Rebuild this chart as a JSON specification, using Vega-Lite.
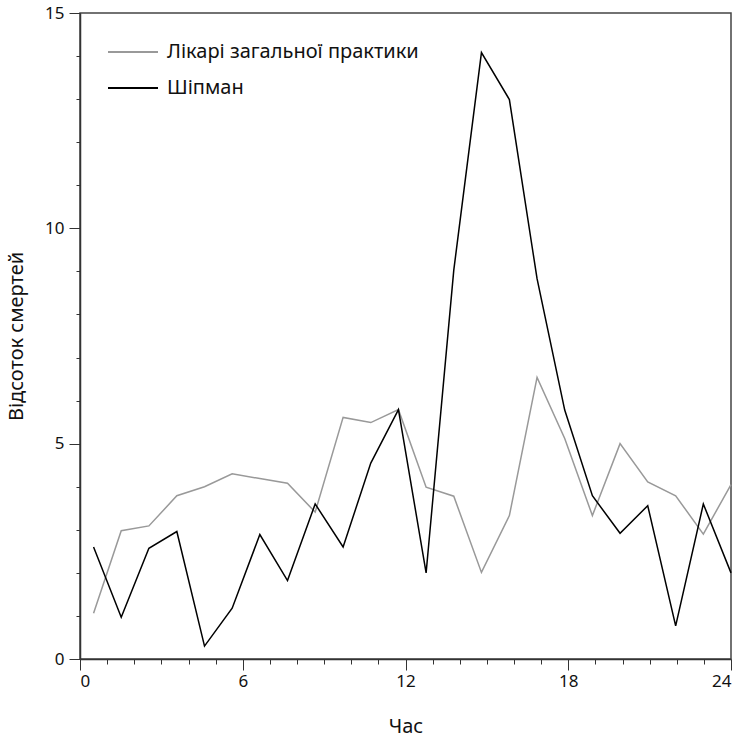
{
  "$schema": "https://vega.github.io/schema/vega-lite/v6.json",
  "width": 651,
  "height": 646,
  "autosize": {"type": "none"},
  "padding": {"left": 80, "top": 13, "right": 12, "bottom": 80},
  "background": "white",
  "config": {
    "font": "Noto Sans",
    "view": {"stroke": "#444444", "strokeWidth": 1.5},
    "axis": {"grid": false, "domainColor": "#333333", "domainWidth": 1.5, "tickColor": "#333333", "labelColor": "#111111", "titleColor": "#111111", "titleFontWeight": "normal", "labelFontSize": 17, "titleFontSize": 20}
  },
  "data": {
    "values": [
      {"hour": 0.5, "pct": 1.06, "series": "Лікарі загальної практики"},
      {"hour": 1.52, "pct": 2.98, "series": "Лікарі загальної практики"},
      {"hour": 2.54, "pct": 3.09, "series": "Лікарі загальної практики"},
      {"hour": 3.57, "pct": 3.79, "series": "Лікарі загальної практики"},
      {"hour": 4.59, "pct": 4.0, "series": "Лікарі загальної практики"},
      {"hour": 5.61, "pct": 4.3, "series": "Лікарі загальної практики"},
      {"hour": 6.63, "pct": 4.19, "series": "Лікарі загальної практики"},
      {"hour": 7.65, "pct": 4.08, "series": "Лікарі загальної практики"},
      {"hour": 8.67, "pct": 3.41, "series": "Лікарі загальної практики"},
      {"hour": 9.7, "pct": 5.61, "series": "Лікарі загальної практики"},
      {"hour": 10.72, "pct": 5.49, "series": "Лікарі загальної практики"},
      {"hour": 11.74, "pct": 5.79, "series": "Лікарі загальної практики"},
      {"hour": 12.76, "pct": 3.99, "series": "Лікарі загальної практики"},
      {"hour": 13.78, "pct": 3.78, "series": "Лікарі загальної практики"},
      {"hour": 14.8, "pct": 2.01, "series": "Лікарі загальної практики"},
      {"hour": 15.83, "pct": 3.33, "series": "Лікарі загальної практики"},
      {"hour": 16.85, "pct": 6.54, "series": "Лікарі загальної практики"},
      {"hour": 17.87, "pct": 5.12, "series": "Лікарі загальної практики"},
      {"hour": 18.89, "pct": 3.33, "series": "Лікарі загальної практики"},
      {"hour": 19.91, "pct": 5.0, "series": "Лікарі загальної практики"},
      {"hour": 20.93, "pct": 4.11, "series": "Лікарі загальної практики"},
      {"hour": 21.96, "pct": 3.79, "series": "Лікарі загальної практики"},
      {"hour": 22.98, "pct": 2.9, "series": "Лікарі загальної практики"},
      {"hour": 24, "pct": 4.05, "series": "Лікарі загальної практики"},
      {"hour": 0.5, "pct": 2.6, "series": "Шіпман"},
      {"hour": 1.52, "pct": 0.97, "series": "Шіпман"},
      {"hour": 2.54, "pct": 2.57, "series": "Шіпман"},
      {"hour": 3.57, "pct": 2.96, "series": "Шіпман"},
      {"hour": 4.59, "pct": 0.3, "series": "Шіпман"},
      {"hour": 5.61, "pct": 1.18, "series": "Шіпман"},
      {"hour": 6.63, "pct": 2.89, "series": "Шіпман"},
      {"hour": 7.65, "pct": 1.82, "series": "Шіпман"},
      {"hour": 8.67, "pct": 3.6, "series": "Шіпман"},
      {"hour": 9.7, "pct": 2.6, "series": "Шіпман"},
      {"hour": 10.72, "pct": 4.55, "series": "Шіпман"},
      {"hour": 11.74, "pct": 5.79, "series": "Шіпман"},
      {"hour": 12.76, "pct": 2.0, "series": "Шіпман"},
      {"hour": 13.78, "pct": 9.03, "series": "Шіпман"},
      {"hour": 14.8, "pct": 14.08, "series": "Шіпман"},
      {"hour": 15.83, "pct": 12.99, "series": "Шіпман"},
      {"hour": 16.85, "pct": 8.83, "series": "Шіпман"},
      {"hour": 17.87, "pct": 5.78, "series": "Шіпман"},
      {"hour": 18.89, "pct": 3.79, "series": "Шіпман"},
      {"hour": 19.91, "pct": 2.92, "series": "Шіпман"},
      {"hour": 20.93, "pct": 3.56, "series": "Шіпман"},
      {"hour": 21.96, "pct": 0.77, "series": "Шіпман"},
      {"hour": 22.98, "pct": 3.6, "series": "Шіпман"},
      {"hour": 24, "pct": 2.0, "series": "Шіпман"}
    ]
  },
  "mark": {"type": "line", "strokeWidth": 1.5},
  "encoding": {
    "x": {
      "field": "hour", "type": "quantitative",
      "scale": {"domain": [0, 24], "nice": false, "zero": false},
      "axis": {
        "title": "Час",
        "values": [0,1,2,3,4,5,6,7,8,9,10,11,12,13,14,15,16,17,18,19,20,21,22,23,24],
        "labelExpr": "datum.value % 6 === 0 ? datum.label : ''",
        "tickSize": {"condition": {"test": "datum.value % 6 === 0", "value": 11}, "value": 5},
        "labelPadding": 3,
        "titlePadding": 27
      }
    },
    "y": {
      "field": "pct", "type": "quantitative",
      "scale": {"domain": [0, 15], "nice": false},
      "axis": {
        "title": "Відсоток смертей",
        "values": [0,1,2,3,4,5,6,7,8,9,10,11,12,13,14,15],
        "labelExpr": "datum.value % 5 === 0 ? datum.label : ''",
        "tickSize": {"condition": {"test": "datum.value % 5 === 0", "value": 11}, "value": 4},
        "labelPadding": 5,
        "titlePadding": 18
      }
    },
    "color": {
      "field": "series", "type": "nominal",
      "scale": {"domain": ["Лікарі загальної практики", "Шіпман"], "range": ["#999999", "#000000"]},
      "legend": {
        "title": null,
        "orient": "none",
        "legendX": 27,
        "legendY": 13,
        "symbolType": "stroke",
        "symbolSize": 2500,
        "symbolStrokeWidth": 2,
        "labelFontSize": 20,
        "labelLimit": 0,
        "labelColor": "#111111",
        "rowPadding": -33,
        "labelOffset": 8
      }
    }
  }
}
